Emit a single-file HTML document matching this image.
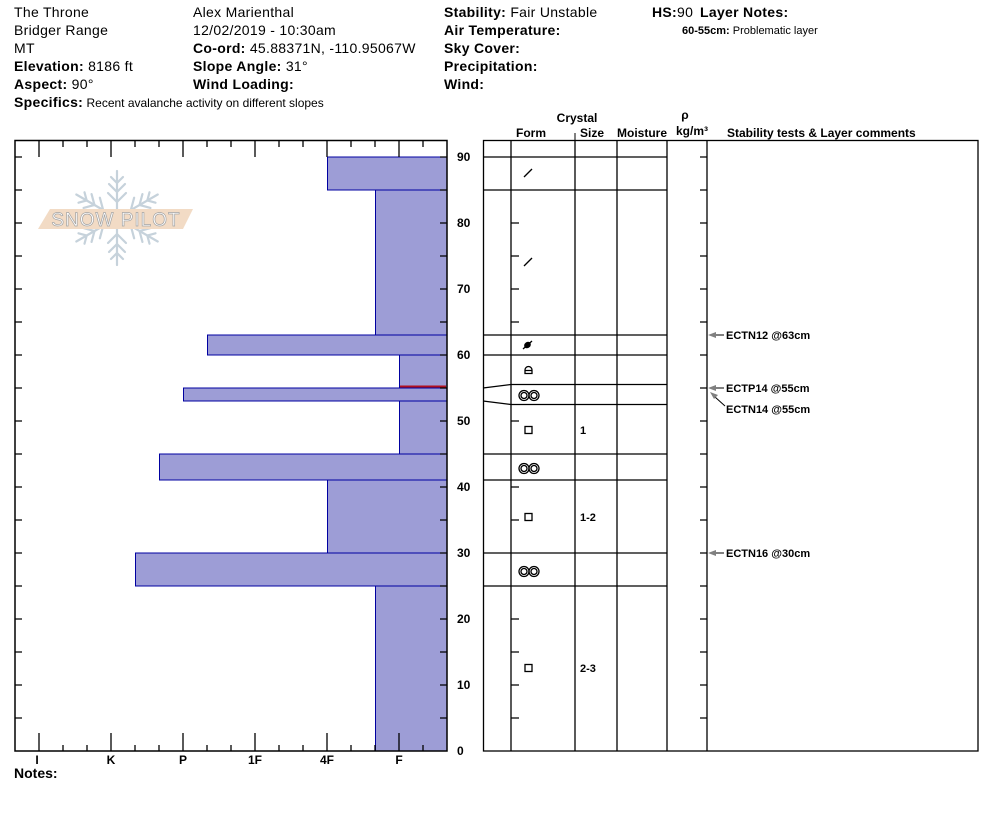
<!DOCTYPE html>
<html><head><meta charset="utf-8"><style>
html,body{margin:0;padding:0;background:#fff;}
svg{display:block;font-family:"Liberation Sans",Arial,sans-serif;}
</style></head><body>
<svg width="994" height="840" viewBox="0 0 994 840" xmlns="http://www.w3.org/2000/svg">
<rect width="994" height="840" fill="#fff"/>
<!-- Header -->
<g font-size="14" fill="#000" letter-spacing="0.3">
<text x="14" y="17">The Throne</text>
<text x="14" y="35">Bridger Range</text>
<text x="14" y="53">MT</text>
<text x="14" y="71"><tspan font-weight="bold">Elevation:</tspan> 8186 ft</text>
<text x="14" y="89"><tspan font-weight="bold">Aspect:</tspan> 90°</text>
<text x="14" y="107"><tspan font-weight="bold">Specifics:</tspan><tspan font-size="12" letter-spacing="0"> Recent avalanche activity on different slopes</tspan></text>
<text x="193" y="17">Alex Marienthal</text>
<text x="193" y="35">12/02/2019 - 10:30am</text>
<text x="193" y="53"><tspan font-weight="bold">Co-ord:</tspan> 45.88371N, -110.95067W</text>
<text x="193" y="71"><tspan font-weight="bold">Slope Angle:</tspan> 31°</text>
<text x="193" y="89" font-weight="bold">Wind Loading:</text>
<text x="444" y="17"><tspan font-weight="bold">Stability:</tspan> Fair Unstable</text>
<text x="444" y="35" font-weight="bold">Air Temperature:</text>
<text x="444" y="53" font-weight="bold">Sky Cover:</text>
<text x="444" y="71" font-weight="bold">Precipitation:</text>
<text x="444" y="89" font-weight="bold">Wind:</text>
<text x="652" y="17"><tspan font-weight="bold">HS:</tspan>90</text>
<text x="700" y="17" font-weight="bold">Layer Notes:</text>
</g>
<text x="682" y="34" font-size="11"><tspan font-weight="bold">60-55cm:</tspan> Problematic layer</text>

<!-- Logo -->
<g stroke="#c6d2db" stroke-width="2.2" fill="none" stroke-linecap="round" transform="translate(117,218)">
<g id="arm">
<line x1="0" y1="0" x2="0" y2="-47"/>
<polyline points="-9,-25 0,-16 9,-25"/>
<polyline points="-8,-34 0,-26 8,-34"/>
<polyline points="-6,-41 0,-35 6,-41"/>
</g>
<use href="#arm" transform="rotate(60)"/>
<use href="#arm" transform="rotate(120)"/>
<use href="#arm" transform="rotate(180)"/>
<use href="#arm" transform="rotate(240)"/>
<use href="#arm" transform="rotate(300)"/>
</g>
<polygon points="50,209 193,209 183,229 38,229" fill="#f2dbc5"/>
<text x="116" y="226" font-size="19" text-anchor="middle" fill="#ffffff" stroke="#a4a4a4" stroke-width="0.7" letter-spacing="1">SNOW PILOT</text>

<!-- Hardness bars -->
<g fill="#9d9dd6" stroke="#0000a0" stroke-width="1">
<rect x="327.5" y="157" width="119.5" height="33"/>
<rect x="375.5" y="190" width="71.5" height="145"/>
<rect x="207.5" y="335" width="239.5" height="20"/>
<rect x="399.5" y="355" width="47.5" height="33"/>
<rect x="183.5" y="388" width="263.5" height="13"/>
<rect x="399.5" y="401" width="47.5" height="53"/>
<rect x="159.5" y="454" width="287.5" height="26"/>
<rect x="327.5" y="480" width="119.5" height="73"/>
<rect x="135.5" y="553" width="311.5" height="33"/>
<rect x="375.5" y="586" width="71.5" height="165"/>
</g>
<line x1="400" y1="386.5" x2="446" y2="386.5" stroke="#b01020" stroke-width="2"/>

<!-- Chart box -->
<rect x="15" y="140.5" width="432" height="610.5" fill="none" stroke="#000" stroke-width="1.5"/>
<g stroke="#000" stroke-width="1.3">
<line x1="39" y1="140" x2="39" y2="157"/><line x1="63" y1="140" x2="63" y2="147"/><line x1="87" y1="140" x2="87" y2="147"/>
<line x1="111" y1="140" x2="111" y2="157"/><line x1="135" y1="140" x2="135" y2="147"/><line x1="159" y1="140" x2="159" y2="147"/>
<line x1="183" y1="140" x2="183" y2="157"/><line x1="207" y1="140" x2="207" y2="147"/><line x1="231" y1="140" x2="231" y2="147"/>
<line x1="255" y1="140" x2="255" y2="157"/><line x1="279" y1="140" x2="279" y2="147"/><line x1="303" y1="140" x2="303" y2="147"/>
<line x1="327" y1="140" x2="327" y2="157"/><line x1="351" y1="140" x2="351" y2="147"/><line x1="375" y1="140" x2="375" y2="147"/>
<line x1="399" y1="140" x2="399" y2="157"/><line x1="423" y1="140" x2="423" y2="147"/>
<line x1="39" y1="751" x2="39" y2="733"/><line x1="63" y1="751" x2="63" y2="745"/><line x1="87" y1="751" x2="87" y2="745"/>
<line x1="111" y1="751" x2="111" y2="733"/><line x1="135" y1="751" x2="135" y2="745"/><line x1="159" y1="751" x2="159" y2="745"/>
<line x1="183" y1="751" x2="183" y2="733"/><line x1="207" y1="751" x2="207" y2="745"/><line x1="231" y1="751" x2="231" y2="745"/>
<line x1="255" y1="751" x2="255" y2="733"/><line x1="279" y1="751" x2="279" y2="745"/><line x1="303" y1="751" x2="303" y2="745"/>
<line x1="327" y1="751" x2="327" y2="733"/><line x1="351" y1="751" x2="351" y2="745"/><line x1="375" y1="751" x2="375" y2="745"/>
<line x1="399" y1="751" x2="399" y2="733"/><line x1="423" y1="751" x2="423" y2="745"/>
</g>
<g stroke="#000" stroke-width="1.3">
<path d="M15 157H22M15 190H22M15 223H22M15 256H22M15 289H22M15 322H22M15 355H22M15 388H22M15 421H22M15 454H22M15 487H22M15 520H22M15 553H22M15 586H22M15 619H22M15 652H22M15 685H22M15 718H22"/>
<path d="M440 157H447M440 190H447M440 223H447M440 256H447M440 289H447M440 322H447M440 355H447M440 388H447M440 421H447M440 454H447M440 487H447M440 520H447M440 553H447M440 586H447M440 619H447M440 652H447M440 685H447M440 718H447"/>
</g>
<g font-size="12" font-weight="bold">
<text x="457" y="161">90</text><text x="457" y="227">80</text><text x="457" y="293">70</text>
<text x="457" y="359">60</text><text x="457" y="425">50</text><text x="457" y="491">40</text>
<text x="457" y="557">30</text><text x="457" y="623">20</text><text x="457" y="689">10</text>
<text x="457" y="755">0</text>
</g>
<g font-size="12" font-weight="bold" text-anchor="middle">
<text x="37" y="764">I</text><text x="111" y="764">K</text><text x="183" y="764">P</text>
<text x="255" y="764">1F</text><text x="327" y="764">4F</text><text x="399" y="764">F</text>
</g>
<text x="14" y="778" font-size="14" font-weight="bold">Notes:</text>

<!-- Table header -->
<g font-size="12" font-weight="bold">
<text x="577" y="122" text-anchor="middle">Crystal</text>
<text x="516" y="137">Form</text>
<text x="580" y="137">Size</text>
<text x="617" y="137">Moisture</text>
<text x="685" y="119" text-anchor="middle">ρ</text>
<text x="676" y="135">kg/m³</text>
<text x="727" y="137">Stability tests &amp; Layer comments</text>
</g>
<line x1="575" y1="133" x2="575" y2="140" stroke="#000" stroke-width="1"/>

<!-- Table -->
<rect x="483.5" y="140.5" width="494.5" height="610.5" fill="none" stroke="#000" stroke-width="1.3"/>
<g stroke="#000" stroke-width="1.3">
<line x1="511" y1="140" x2="511" y2="751"/>
<line x1="575" y1="140" x2="575" y2="751"/>
<line x1="617" y1="140" x2="617" y2="751"/>
<line x1="667" y1="140" x2="667" y2="751"/>
<line x1="707" y1="140" x2="707" y2="751"/>
<path d="M483 157H667M483 190H667M483 335H667M483 355H667M511 384.5H667M511 404.5H667M483 454H667M483 480H667M483 553H667M483 586H667"/>
<path d="M483 388L511 384.5M483 401L511 404.5"/>
<path d="M511 223H519M511 256H519M511 289H519M511 322H519M511 421H519M511 487H519M511 520H519M511 619H519M511 652H519M511 685H519M511 718H519"/>
<path d="M700 157H707M700 190H707M700 223H707M700 256H707M700 289H707M700 322H707M700 355H707M700 388H707M700 421H707M700 454H707M700 487H707M700 520H707M700 553H707M700 586H707M700 619H707M700 652H707M700 685H707M700 718H707"/>
</g>

<!-- Grain forms -->
<g stroke="#000" stroke-width="1.3" fill="none">
<line x1="524" y1="177" x2="532" y2="169"/>
<line x1="524" y1="266" x2="532" y2="258"/>
<line x1="523" y1="349" x2="532" y2="341"/>
<path d="M525 373.5V370a3.5 3.5 0 0 1 7 0V373.5Z M525 370.5H532"/>
<circle cx="524" cy="395.5" r="5"/><circle cx="534" cy="395.5" r="5"/>
<circle cx="524" cy="395.5" r="3"/><circle cx="534" cy="395.5" r="3"/>
<rect x="525" y="426.5" width="7" height="7"/>
<circle cx="524" cy="468.5" r="5"/><circle cx="534" cy="468.5" r="5"/>
<circle cx="524" cy="468.5" r="3"/><circle cx="534" cy="468.5" r="3"/>
<rect x="525" y="513.5" width="7" height="7"/>
<circle cx="524" cy="571.5" r="5"/><circle cx="534" cy="571.5" r="5"/>
<circle cx="524" cy="571.5" r="3"/><circle cx="534" cy="571.5" r="3"/>
<rect x="525" y="664.5" width="7" height="7"/>
</g>
<ellipse cx="527.5" cy="345" rx="3.6" ry="3" fill="#000" transform="rotate(-40 527.5 345)"/>
<g font-size="11" font-weight="bold">
<text x="580" y="434">1</text>
<text x="580" y="521">1-2</text>
<text x="580" y="672">2-3</text>
</g>

<!-- Stability tests -->
<g stroke="#000" stroke-width="1">
<line x1="714" y1="335" x2="724" y2="335"/>
<line x1="714" y1="388" x2="724" y2="388"/>
<line x1="714" y1="553" x2="724" y2="553"/>
<line x1="715" y1="397" x2="725" y2="406"/>
</g>
<g fill="#808080">
<polygon points="708,335 716,332 716,338"/>
<polygon points="708,388 716,385 716,391"/>
<polygon points="708,553 716,550 716,556"/>
<polygon points="710,392 718,395 714,399"/>
</g>
<g font-size="11" font-weight="bold">
<text x="726" y="339">ECTN12 @63cm</text>
<text x="726" y="392">ECTP14 @55cm</text>
<text x="726" y="413">ECTN14 @55cm</text>
<text x="726" y="557">ECTN16 @30cm</text>
</g>
</svg>
</body></html>
